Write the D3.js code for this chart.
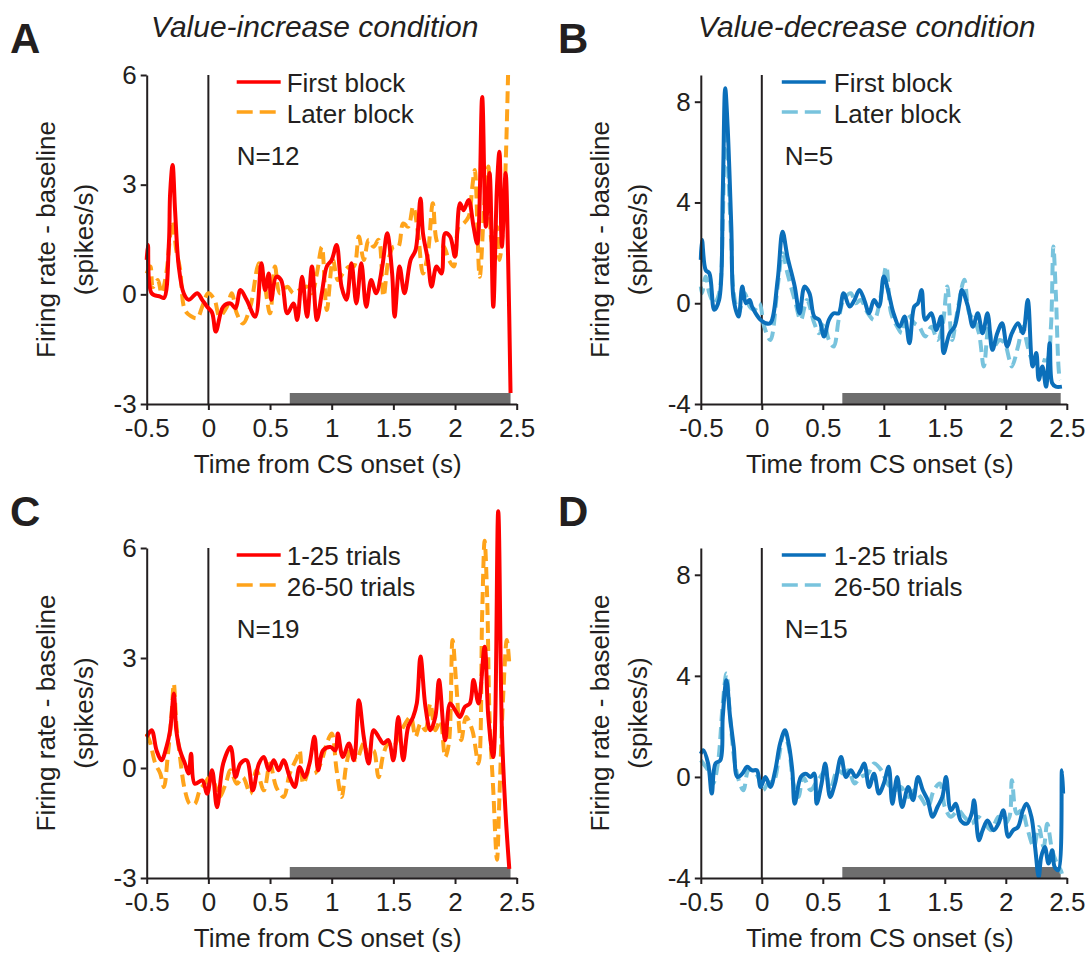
<!DOCTYPE html>
<html>
<head>
<meta charset="utf-8">
<script src="https://cdn.jsdelivr.net/npm/d3@7"></script>
<style>
body { margin: 0; background: #fff; }
svg text { font-family: "Liberation Sans", Arial, Helvetica, sans-serif; fill: #231f20; }
</style>
</head>
<body>
<div id="chart"></div>
<script>
// Tick values and labels
var timeTicks = [-0.5, 0, 0.5, 1, 1.5, 2, 2.5];
var incTicks = [-3, 0, 3, 6];
var decTicks = [-4, 0, 4, 8];
var conditionTitles = ["Value-increase condition", "Value-decrease condition"];
var blockLabels = ["First block", "Later block"];
var trialLabels = ["1-25 trials", "26-50 trials"];
var neuronCounts = [12, 5, 19, 15];
var cueWindow = [0.66, 2.45];   // grey bar (s)

// [time (s), firing rate - baseline (spikes/s)]
var incFirst = [[-0.50,0.94],[-0.49,1.35],[-0.46,0.03],[-0.39,-0.06],[-0.36,-0.10],[-0.32,1.4],[-0.31,2.76],[-0.29,3.54],[-0.27,2.3],[-0.24,0.76],[-0.20,0.03],[-0.16,-0.15],[-0.09,0.03],[-0.05,-0.15],[-0.01,-0.34],[0.03,-0.5],[0.06,-1.02],[0.12,-0.34],[0.18,-0.25],[0.22,-0.38],[0.26,0.12],[0.31,-0.15],[0.38,-0.61],[0.43,0.85],[0.46,0.12],[0.49,0.57],[0.51,-0.15],[0.55,0.48],[0.59,0.39],[0.64,-0.52],[0.69,-0.25],[0.72,-0.7],[0.76,0.48],[0.80,-0.61],[0.84,0.76],[0.88,-0.7],[0.92,0.03],[0.96,0.76],[1.00,0.94],[1.04,1.35],[1.08,0.21],[1.12,-0.15],[1.16,0.85],[1.20,-0.25],[1.24,0.85],[1.28,-0.34],[1.32,0.39],[1.36,0.03],[1.41,0.76],[1.45,1.67],[1.49,0.57],[1.51,-0.61],[1.55,0.76],[1.59,0.03],[1.64,0.94],[1.68,1.21],[1.72,2.62],[1.74,1.67],[1.78,0.94],[1.81,0.21],[1.85,0.76],[1.89,0.57],[1.92,1.67],[1.96,1.58],[2.00,1.03],[2.04,2.49],[2.07,2.3],[2.11,2.58],[2.15,1.85],[2.18,1.39],[2.22,5.4],[2.25,1.85],[2.28,3.32],[2.31,-0.34],[2.34,2.95],[2.36,3.9],[2.38,1.3],[2.41,3.32],[2.43,1.03],[2.45,-2.7]];
var incLater = [[-0.50,0.57],[-0.47,0.76],[-0.45,0.2],[-0.41,0.39],[-0.38,0.03],[-0.34,0.6],[-0.31,1.6],[-0.29,2.0],[-0.26,1.2],[-0.23,0.7],[-0.19,-0.43],[-0.14,-0.6],[-0.09,-0.65],[-0.05,-0.34],[0.00,0.03],[0.05,-0.15],[0.09,-0.6],[0.15,-0.34],[0.19,0.03],[0.23,-0.52],[0.28,-0.8],[0.34,-0.34],[0.41,0.85],[0.45,0.39],[0.50,-0.52],[0.54,0.76],[0.58,0.03],[0.64,0.21],[0.69,0.03],[0.74,0.12],[0.80,0.21],[0.84,0.03],[0.88,0.57],[0.92,1.3],[0.96,-0.43],[1.01,0.94],[1.05,0.39],[1.09,0.57],[1.14,0.76],[1.18,0.76],[1.22,1.58],[1.26,0.94],[1.30,1.49],[1.34,1.30],[1.38,1.49],[1.42,-0.06],[1.46,0.94],[1.50,1.30],[1.54,1.30],[1.58,1.94],[1.62,1.85],[1.66,2.4],[1.70,1.67],[1.74,0.57],[1.78,1.12],[1.82,2.49],[1.86,1.39],[1.91,1.30],[1.95,0.94],[1.99,0.76],[2.03,1.85],[2.07,1.94],[2.11,2.12],[2.14,2.94],[2.16,3.4],[2.20,0.48],[2.24,2.58],[2.27,3.5],[2.30,1.4],[2.34,1.85],[2.36,0.94],[2.39,1.85],[2.41,3.5],[2.43,6.0]];
var incEarly = [[-0.50,0.85],[-0.46,1.03],[-0.42,0.48],[-0.38,0.21],[-0.34,0.57],[-0.31,1.03],[-0.28,2.03],[-0.26,1.03],[-0.23,0.48],[-0.19,0.12],[-0.16,-0.15],[-0.14,0.39],[-0.11,-0.43],[-0.05,-0.34],[-0.01,-0.7],[0.03,-0.06],[0.07,-1.07],[0.12,0.12],[0.18,0.57],[0.22,-0.25],[0.26,0.12],[0.31,0.21],[0.36,-0.61],[0.41,0.12],[0.45,0.3],[0.49,-0.06],[0.53,0.21],[0.57,-0.06],[0.61,0.21],[0.66,-0.25],[0.70,-0.52],[0.74,0.03],[0.78,-0.25],[0.82,0.12],[0.86,0.85],[0.89,-0.06],[0.93,0.48],[0.99,0.57],[1.03,0.48],[1.05,0.94],[1.09,0.3],[1.14,0.67],[1.18,0.21],[1.22,1.85],[1.26,0.85],[1.30,0.12],[1.34,1.03],[1.38,0.85],[1.42,0.67],[1.46,0.76],[1.50,0.21],[1.54,1.39],[1.58,0.21],[1.62,1.12],[1.66,1.39],[1.69,1.76],[1.72,3.04],[1.76,1.67],[1.80,1.03],[1.84,1.39],[1.87,2.4],[1.92,0.76],[1.96,1.76],[2.00,1.58],[2.04,1.39],[2.08,1.67],[2.12,1.76],[2.15,2.4],[2.19,1.76],[2.24,3.31],[2.27,1.39],[2.31,0.3],[2.35,7.0],[2.38,1.03],[2.41,-1.25],[2.44,-2.75]];
var incLate = [[-0.50,0.94],[-0.47,0.67],[-0.43,0.12],[-0.39,-0.15],[-0.36,-0.52],[-0.33,0.3],[-0.30,1.39],[-0.28,2.3],[-0.26,1.21],[-0.23,0.3],[-0.19,-0.61],[-0.15,-0.98],[-0.11,-0.98],[-0.07,-0.61],[-0.03,-0.43],[0.01,-0.25],[0.05,-0.43],[0.09,-0.79],[0.14,-0.43],[0.18,-0.06],[0.23,-0.43],[0.28,-0.25],[0.34,-0.7],[0.39,-0.06],[0.45,-0.61],[0.50,0.12],[0.55,-0.52],[0.61,-0.79],[0.66,-0.15],[0.72,0.3],[0.74,0.48],[0.77,-0.43],[0.82,-0.06],[0.86,-0.15],[0.91,0.12],[0.96,0.67],[1.00,0.94],[1.04,-0.06],[1.08,-0.79],[1.12,0.12],[1.16,0.57],[1.20,0.21],[1.26,0.67],[1.30,0.3],[1.34,0.48],[1.38,-0.25],[1.42,0.39],[1.46,0.67],[1.50,0.57],[1.54,0.85],[1.58,1.12],[1.64,1.39],[1.68,0.85],[1.72,1.21],[1.76,1.03],[1.80,1.76],[1.84,1.03],[1.88,1.30],[1.92,0.3],[1.95,0.67],[1.98,3.49],[2.01,2.30],[2.05,0.76],[2.09,1.39],[2.14,1.03],[2.19,0.12],[2.22,4.2],[2.24,6.2],[2.26,4.7],[2.28,1.39],[2.31,-0.61],[2.34,-2.5],[2.36,-0.79],[2.39,1.94],[2.42,3.49],[2.44,2.85]];

var decFirst = [[-0.50,1.72],[-0.49,2.51],[-0.46,1.32],[-0.43,1.19],[-0.39,-0.26],[-0.35,0.13],[-0.32,4.37],[-0.30,8.53],[-0.28,7.0],[-0.25,3.04],[-0.23,0.13],[-0.19,-0.53],[-0.16,0.66],[-0.13,0],[-0.10,0.13],[-0.08,-0.13],[-0.05,-0.4],[-0.01,-0.66],[0.03,-0.79],[0.07,-0.79],[0.13,0.93],[0.17,2.84],[0.21,1.85],[0.27,0.66],[0.31,-0.4],[0.35,0.66],[0.39,0.4],[0.43,-0.53],[0.47,-0.66],[0.51,-1.32],[0.55,-0.66],[0.59,-0.4],[0.63,-0.4],[0.67,0.4],[0.72,-0.13],[0.76,0.13],[0.80,0.53],[0.84,0.13],[0.88,-0.4],[0.92,0.13],[0.96,-0.13],[1.00,1.06],[1.04,0.4],[1.08,-0.4],[1.13,-0.93],[1.17,-0.53],[1.21,-1.59],[1.25,-0.13],[1.28,0],[1.31,0.53],[1.34,-0.66],[1.39,-0.4],[1.43,-1.06],[1.47,-0.53],[1.49,-1.98],[1.54,-1.19],[1.58,-0.93],[1.62,0],[1.64,0.53],[1.69,-0.13],[1.73,-0.93],[1.77,-0.4],[1.81,-1.19],[1.85,-0.4],[1.89,-1.85],[1.93,-1.19],[1.97,-0.79],[2.01,-1.72],[2.05,-1.19],[2.10,-0.79],[2.14,-1.19],[2.18,0.13],[2.22,-2.51],[2.25,-1.98],[2.27,-3.04],[2.30,-2.51],[2.33,-3.31],[2.36,-1.59],[2.38,-3.17],[2.41,-3.31],[2.46,-3.31]];
var decLater = [[-0.50,0.66],[-0.49,0.4],[-0.46,1.06],[-0.43,0.4],[-0.39,0],[-0.35,0.4],[-0.32,3.31],[-0.30,7.0],[-0.28,5.69],[-0.25,2.38],[-0.23,0.4],[-0.19,-0.4],[-0.14,0.4],[-0.10,-0.13],[-0.06,-0.26],[-0.02,0],[0.02,-0.93],[0.07,-1.46],[0.13,0.66],[0.17,1.98],[0.21,1.19],[0.27,0.13],[0.32,-0.66],[0.37,0.13],[0.43,-0.79],[0.47,-1.19],[0.51,-0.79],[0.55,-1.46],[0.59,-1.72],[0.63,-0.66],[0.67,0.13],[0.73,0.4],[0.77,0],[0.81,0.13],[0.87,-0.4],[0.92,-0.66],[0.98,0.4],[1.02,1.46],[1.06,-0.4],[1.11,-0.93],[1.15,-1.19],[1.19,-0.4],[1.25,-0.79],[1.29,-0.93],[1.34,-1.32],[1.39,-0.93],[1.44,-1.46],[1.48,-0.93],[1.52,0.66],[1.56,-1.46],[1.60,-0.4],[1.66,0.93],[1.70,-0.4],[1.74,-0.66],[1.78,-1.19],[1.82,-2.51],[1.86,-0.93],[1.90,-1.72],[1.95,-1.46],[1.99,-1.59],[2.03,-2.25],[2.05,-2.51],[2.10,-1.72],[2.14,-0.93],[2.18,-1.72],[2.22,-2.25],[2.26,-2.12],[2.30,-2.25],[2.34,-2.25],[2.37,-0.93],[2.39,2.25],[2.41,0.4],[2.44,-2.91],[2.45,-3.04]];
var decEarly = [[-0.50,0.92],[-0.48,1.06],[-0.44,0.53],[-0.41,-0.66],[-0.38,0.53],[-0.34,0.66],[-0.32,2.37],[-0.29,3.83],[-0.26,2.37],[-0.23,1.19],[-0.20,0],[-0.16,0.13],[-0.12,0.4],[-0.08,0.26],[-0.04,0.26],[-0.01,-0.4],[0.03,0],[0.07,-0.4],[0.11,0.26],[0.15,1.32],[0.19,1.85],[0.22,1.32],[0.25,0.26],[0.27,-1.06],[0.32,0],[0.36,0.13],[0.40,0],[0.43,0.13],[0.45,-1.06],[0.49,-0.26],[0.52,0.53],[0.56,-0.79],[0.60,-0.26],[0.65,0.79],[0.69,0],[0.73,0.26],[0.77,0],[0.81,0.26],[0.84,0.53],[0.88,-0.4],[0.92,0.13],[0.96,-0.66],[1.00,-0.26],[1.04,0.4],[1.07,-1.06],[1.11,0],[1.15,-1.19],[1.20,-0.4],[1.24,-0.92],[1.28,0],[1.32,-0.53],[1.36,-0.92],[1.40,-1.58],[1.44,-1.19],[1.48,-0.79],[1.51,0],[1.55,-1.32],[1.59,-1.06],[1.63,-1.72],[1.68,-1.85],[1.72,-1.45],[1.74,-0.92],[1.78,-2.51],[1.81,-2.11],[1.85,-1.72],[1.90,-2.11],[1.94,-1.85],[1.98,-1.32],[2.02,-2.37],[2.06,-2.11],[2.10,-1.98],[2.14,-1.32],[2.17,-1.06],[2.21,-1.58],[2.24,-2.77],[2.27,-3.96],[2.29,-3.17],[2.32,-2.77],[2.35,-3.43],[2.38,-2.9],[2.40,-3.56],[2.43,-3.69],[2.46,0.26],[2.47,-0.66]];
var decLate = [[-0.50,0.66],[-0.48,0.53],[-0.44,0.26],[-0.40,-0.26],[-0.36,0.53],[-0.32,2.9],[-0.29,4.09],[-0.26,2.37],[-0.22,0.53],[-0.18,-0.26],[-0.15,-0.53],[-0.11,0.26],[-0.07,0.26],[-0.03,0],[0.01,-0.53],[0.05,-0.26],[0.10,-0.13],[0.14,0.79],[0.18,1.72],[0.22,1.19],[0.26,-0.26],[0.30,-0.79],[0.34,0],[0.40,-0.53],[0.44,-0.26],[0.48,0],[0.52,0.26],[0.56,-0.53],[0.62,0.26],[0.67,0.13],[0.71,0.26],[0.76,-0.26],[0.81,0],[0.87,0.13],[0.92,0.53],[0.98,0.26],[1.03,-0.26],[1.09,-0.53],[1.14,-0.4],[1.20,-0.79],[1.25,-0.53],[1.30,-0.79],[1.36,-1.19],[1.41,-0.53],[1.46,-0.26],[1.50,-1.19],[1.55,-1.58],[1.61,-1.32],[1.66,-1.58],[1.72,-1.85],[1.77,-1.58],[1.83,-1.85],[1.88,-2.11],[1.94,-1.58],[1.99,-1.85],[2.03,-1.58],[2.05,-0.13],[2.09,-1.45],[2.13,-1.32],[2.18,-2.11],[2.23,-2.77],[2.27,-1.98],[2.31,-2.77],[2.34,-1.85],[2.38,-2.9],[2.42,-3.43],[2.45,-3.69],[2.46,-3.83]];

var warm = ["#ff0000", "#ffa31a"];
var cool = ["#0b6fba", "#78c3dd"];

var svgWidth = 1092;
var svgHeight = 960;

var svg = d3.select("#chart")
            .append("svg")
            .attr("width", svgWidth)
            .attr("height", svgHeight);

// one entry per panel, built from the arrays above
var panels = [
    { letter: "A", title: conditionTitles[0], solid: incFirst, dashed: incLater, labels: blockLabels, n: neuronCounts[0],
      colors: warm, yDomain: [-3, 6], yTicks: incTicks, left: 146.7, right: 516.7, top: 75, bottom: 404, legX: 90, textX: 140, nX: 90 },
    { letter: "B", title: conditionTitles[1], solid: decFirst, dashed: decLater, labels: blockLabels, n: neuronCounts[1],
      colors: cool, yDomain: [-4, 9.06], yTicks: decTicks, left: 700.8, right: 1066.8, top: 75, bottom: 404, legX: 81, textX: 133, nX: 84 },
    { letter: "C", title: null, solid: incEarly, dashed: incLate, labels: trialLabels, n: neuronCounts[2],
      colors: warm, yDomain: [-3, 6], yTicks: incTicks, left: 146.7, right: 516.7, top: 548, bottom: 878, legX: 90, textX: 140, nX: 90 },
    { letter: "D", title: null, solid: decEarly, dashed: decLate, labels: trialLabels, n: neuronCounts[3],
      colors: cool, yDomain: [-4, 9.06], yTicks: decTicks, left: 700.8, right: 1066.8, top: 548, bottom: 878, legX: 81, textX: 133, nX: 84 }
];

var ink = "#231f20";

panels.forEach(function(p) {
    var xScale = d3.scaleLinear().domain([-0.5, 2.5]).range([p.left, p.right]);
    var yScale = d3.scaleLinear().domain(p.yDomain).range([p.bottom, p.top]);
    var g = svg.append("g");

    // grey bar for the analysis window
    g.append("rect")
     .attr("x", xScale(cueWindow[0]))
     .attr("width", xScale(cueWindow[1]) - xScale(cueWindow[0]))
     .attr("y", p.bottom - 11)
     .attr("height", 11)
     .attr("fill", "#6e6e6e");

    // CS onset line
    g.append("line")
     .attr("x1", xScale(0)).attr("x2", xScale(0))
     .attr("y1", p.top).attr("y2", p.bottom)
     .attr("stroke", ink).attr("stroke-width", 2);

    var line = d3.line()
                 .x(d => xScale(d[0]))
                 .y(d => yScale(d[1]))
                 .curve(d3.curveCatmullRom.alpha(0.5));

    g.append("path").datum(p.dashed)
     .attr("d", line).attr("fill", "none")
     .attr("stroke", p.colors[1]).attr("stroke-width", 4)
     .attr("stroke-dasharray", "12,6");
    g.append("path").datum(p.solid)
     .attr("d", line).attr("fill", "none")
     .attr("stroke", p.colors[0]).attr("stroke-width", 4)
     .attr("stroke-linejoin", "round");

    // axes
    var bottomAxis = d3.axisBottom(xScale).tickValues(timeTicks).tickFormat(d => String(d))
                       .tickSizeInner(6).tickSizeOuter(0).tickPadding(9);
    var leftAxis = d3.axisLeft(yScale).tickValues(p.yTicks).tickFormat(d => String(d))
                     .tickSizeInner(6).tickSizeOuter(0).tickPadding(4);

    [g.append("g").attr("transform", `translate(0, ${p.bottom})`).call(bottomAxis),
     g.append("g").attr("transform", `translate(${p.left}, 0)`).call(leftAxis)]
    .forEach(function(ax) {
        ax.attr("font-size", 26).attr("font-family", null);
        ax.selectAll("path, line").attr("stroke", ink).attr("stroke-width", 2);
        ax.selectAll("text").attr("fill", ink);
    });

    // axis titles
    g.append("text")
     .attr("x", (p.left + p.right) / 2 - 4)
     .attr("y", p.bottom + 69)
     .attr("text-anchor", "middle")
     .attr("font-size", 26)
     .text("Time from CS onset (s)");

    var midY = (p.top + p.bottom) / 2;
    [["Firing rate - baseline", -92], ["(spikes/s)", -54]].forEach(function(row) {
        g.append("text")
         .attr("transform", `translate(${p.left + row[1]}, ${midY}) rotate(-90)`)
         .attr("text-anchor", "middle")
         .attr("font-size", 26)
         .text(row[0]);
    });

    // legend
    p.labels.forEach(function(label, i) {
        var ly = p.top + 7 + i * 30;
        g.append("line")
         .attr("x1", p.left + p.legX).attr("x2", p.left + p.legX + 44)
         .attr("y1", ly).attr("y2", ly)
         .attr("stroke", p.colors[i]).attr("stroke-width", 3.5)
         .attr("stroke-dasharray", i === 1 ? "16,7" : null);
        g.append("text")
         .attr("x", p.left + p.textX)
         .attr("y", p.top + 17 + i * 31)
         .attr("font-size", 26)
         .text(label);
    });
    g.append("text")
     .attr("x", p.left + p.nX)
     .attr("y", p.top + 90)
     .attr("font-size", 26)
     .text("N=" + p.n);

    // panel letter and condition title
    g.append("text")
     .attr("x", p.left < 300 ? 10 : 558)
     .attr("y", p.top - 22)
     .attr("font-size", 42)
     .attr("font-weight", "bold")
     .text(p.letter);
    if (p.title) {
        g.append("text")
         .attr("x", (p.left + p.right) / 2 - 17)
         .attr("y", 37)
         .attr("text-anchor", "middle")
         .attr("font-size", 30)
         .attr("font-style", "italic")
         .text(p.title);
    }
});
</script>
</body>
</html>
